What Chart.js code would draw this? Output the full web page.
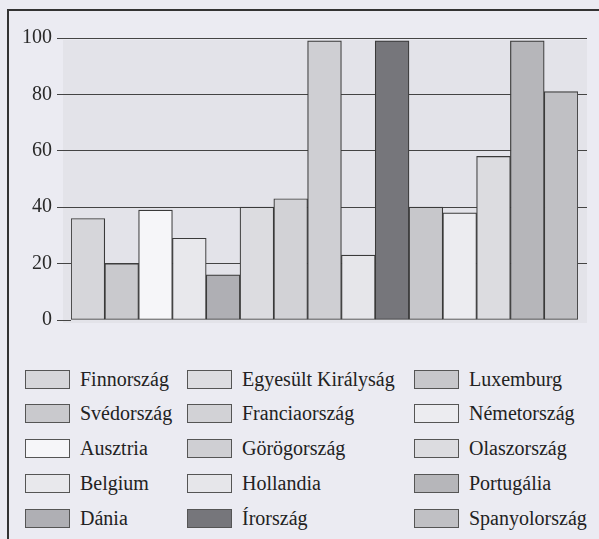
<!DOCTYPE html>
<html>
<head>
<meta charset="utf-8">
<script src="https://cdn.jsdelivr.net/npm/chart.js@4.4.1/dist/chart.umd.min.js"></script>
<style>
    body { margin: 0; background: #ebebf2; }
    #lap { position: relative; width: 599px; height: 539px; overflow: hidden; }
    #keret { position: absolute; left: 7px; top: 9px; width: 620px; height: 560px; border-top: 2px solid #333; border-left: 2px solid #333; }
    canvas { position: absolute; left: 0; top: 0; }
    .elem { position: absolute; height: 22px; display: flex; align-items: center; font: 20px "Liberation Serif", serif; color: #222; white-space: nowrap; }
    .minta { width: 45px; height: 19px; box-sizing: border-box; border: 1px solid #555; margin-right: 10px; }
</style>
</head>
<body>
<div id="lap">
    <div id="keret"></div>
    <canvas id="grafikon" width="599" height="340"></canvas>
    <div id="jelmagyarazat"></div>
</div>
<script>
// adatok
const orszagok = ['Finnország', 'Svédország', 'Ausztria', 'Belgium', 'Dánia',
    'Egyesült Királyság', 'Franciaország', 'Görögország', 'Hollandia', 'Írország',
    'Luxemburg', 'Németország', 'Olaszország', 'Portugália', 'Spanyolország']
const ertekek = [36, 20, 39, 29, 16, 40, 43, 99, 23, 99, 40, 38, 58, 99, 81]
const szinek = ['#d6d6da', '#c9c9cd', '#f6f6f9', '#e8e8ec', '#afafb4',
    '#dcdce0', '#d2d2d6', '#cfcfd3', '#e6e6ea', '#76767b',
    '#c7c7cb', '#ececf0', '#dcdce0', '#b6b6ba', '#c0c0c4']
const yTickek = [0, 20, 40, 60, 80, 100]

// halvany hatter a rajzterulet mogott
const hatter = {
    id: 'hatter',
    beforeDraw(chart) {
        const ctx = chart.ctx
        ctx.save()
        ctx.fillStyle = '#e3e3e9'
        ctx.fillRect(63, 40, 524, 283)
        ctx.restore()
    }
}

const ctx = document.getElementById('grafikon').getContext('2d')
let chart = new Chart(ctx, {
    type: 'bar',
    data: {
        labels: orszagok,
        datasets: [{
            data: ertekek,
            backgroundColor: szinek,
            borderColor: '#3a3a3a',
            borderWidth: 1.2,
            borderSkipped: false,
            categoryPercentage: 1,
            barPercentage: 1
        }]
    },
    options: {
        responsive: false,
        animation: false,
        devicePixelRatio: 1,
        layout: { padding: { top: 38, bottom: 20, left: 0, right: 0 } },
        plugins: { legend: { display: false }, tooltip: { enabled: false } },
        scales: {
            x: { display: false },
            y: {
                min: 0, max: 100,
                afterFit: s => { s.width = 71 },
                afterBuildTicks: s => { s.ticks = yTickek.map(v => ({ value: v })) },
                border: { display: false },
                grid: {
                    color: c => c.tick && c.tick.value === 0 ? 'rgba(0,0,0,0)' : '#444',
                    tickColor: '#444',
                    tickLength: 14,
                    lineWidth: 1
                },
                ticks: {
                    padding: 5,
                    color: '#2a2a2a',
                    font: { family: 'Liberation Serif', size: 20 }
                }
            },
            y2: {
                position: 'right',
                min: 0, max: 100,
                afterFit: s => { s.width = 21 },
                afterBuildTicks: s => { s.ticks = yTickek.filter(v => v > 0).map(v => ({ value: v })) },
                border: { display: false },
                grid: { drawOnChartArea: false, tickColor: '#444', tickLength: 9 },
                ticks: { display: false }
            }
        }
    },
    plugins: [hatter]
})

// jelmagyarazat 3 oszlopban, oszloponkent 5 sor
const oszlopX = [25, 187, 414]
const jm = document.getElementById('jelmagyarazat')
orszagok.forEach((nev, i) => {
    const oszlop = Math.floor(i / 5)
    const sor = i % 5
    const el = document.createElement('div')
    el.className = 'elem'
    el.style.left = oszlopX[oszlop] + 'px'
    el.style.top = (368 + sor * 34.8) + 'px'
    el.innerHTML = '<span class="minta" style="background:' + szinek[i] + '"></span>' + nev
    jm.appendChild(el)
})
</script>
</body>
</html>
